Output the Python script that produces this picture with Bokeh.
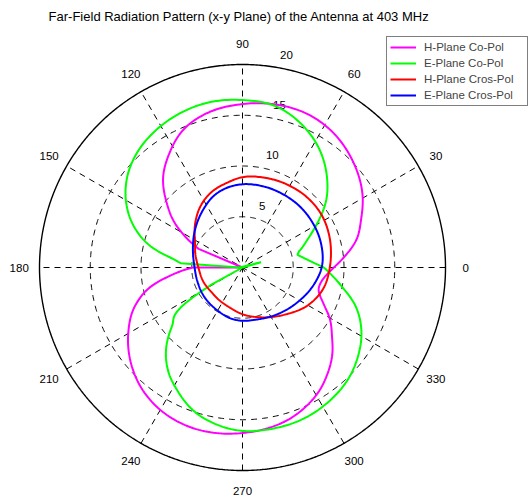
import numpy as np
from bokeh.plotting import figure
from bokeh.models import Label, Legend, LegendItem
from bokeh.core.properties import value
from bokeh.embed import file_html
from bokeh.resources import INLINE

title_text = "Far-Field Radiation Pattern (x-y Plane) of the Antenna at 403 MHz"

# ---- data (angle in degrees, radius) ----
h_co_theta = [0, 5, 14, 22, 31, 44, 56, 66, 78, 90, 103, 113, 123, 132, 140, 147, 152, 157, 160,
              180, 184, 186, 192, 199, 210, 220, 230, 240, 252, 262, 270, 277, 286, 294, 302, 308,
              316, 322, 330, 335, 343, 350, 360]
h_co_r = [9.0, 9.9, 11.6, 12.6, 13.8, 15.1, 16.0, 16.4, 16.4, 16.1, 15.6, 14.8, 13.3, 11.7, 9.7, 7.9,
          6.3, 4.7, 0.0, 4.9, 6.3, 7.0, 9.3, 11.1, 13.0, 14.4, 15.5, 16.2, 16.55, 16.5, 16.3, 16.1,
          15.7, 15.1, 14.3, 13.5, 12.3, 11.2, 9.9, 8.9, 7.85, 7.9, 9.0]

e_co_theta = [0, 3, 13, 16, 25, 32, 38, 47, 57, 67, 78, 90, 102, 112, 122, 132, 143, 151, 159, 167,
              173, 176, 179, 196, 205, 209, 212, 220, 226, 234, 242, 251, 261, 270, 280, 290, 303,
              314, 323, 331, 341, 349, 357, 360]
e_co_r = [8.0, 7.2, 5.55, 5.8, 7.3, 8.9, 10.4, 12.2, 13.9, 15.2, 16.2, 16.5, 16.6, 16.4, 16.0, 15.4,
          14.3, 13.1, 11.5, 9.3, 6.9, 6.1, 0.3, -1.9, 0.0, 3.6, 6.6, 9.1, 10.8, 12.5, 13.7, 14.9,
          15.7, 16.1, 16.15, 16.1, 15.7, 15.1, 14.3, 13.4, 11.8, 10.0, 8.5, 8.0]

h_cross_theta = [0, 8, 20, 33, 46, 60, 77, 90, 100, 113, 124, 136, 152, 165, 174, 180, 200, 219, 235,
                 253, 270, 292, 313, 331, 346, 360]
h_cross_r = [8.6, 8.8, 9.1, 9.35, 9.4, 9.3, 9.1, 8.9, 8.5, 8.0, 7.35, 6.45, 5.3, 4.8, 4.5, 4.35, 4.1,
             3.9, 3.95, 4.15, 4.6, 5.3, 6.3, 7.5, 8.25, 8.6]

e_cross_theta = [0, 18, 33, 47, 61, 76, 90, 101, 112, 124, 141, 160, 178, 196, 218, 240, 257, 270,
                 284, 305, 330, 347, 360]
e_cross_r = [7.8, 8.1, 8.2, 8.25, 8.25, 8.25, 8.2, 8.0, 7.6, 6.9, 6.0, 5.2, 4.75, 4.65, 4.75, 4.9, 5.15,
             5.25, 5.3, 5.7, 6.5, 7.25, 7.8]

# sharp corners visible in the picture (angles), besides nulls
h_co_corners = []
e_co_corners = [13]

series_names = ["H-Plane Co-Pol", "E-Plane Co-Pol", "H-Plane Cros-Pol", "E-Plane Cros-Pol"]
series_colors = ["#FF00FF", "#00FF00", "#FF0000", "#0000FF"]

ring_values = [5, 10, 15]
r_max = 20
spoke_angles = [30, 60, 90, 120, 150, 180]
angle_ticks = [0, 30, 60, 90, 120, 150, 180, 210, 240, 270, 300, 330]
radial_ticks = [5, 10, 15, 20]

# ---- layout ----
W, H = 528, 497
cx, cy = 242.0, 267.0          # centre of polar area in pixels (from top-left)
scale = 203.0 / r_max           # pixels per radial unit

p = figure(width=W, height=H,
           x_range=(-cx / scale, (W - cx) / scale),
           y_range=(-(H - cy) / scale, cy / scale),
           output_backend="svg", toolbar_location=None,
           x_axis_type=None, y_axis_type=None, min_border=0)
p.grid.visible = False
p.outline_line_color = None
p.background_fill_color = "white"
p.border_fill_color = "white"


def pol2xy(theta_deg, r):
    t = np.deg2rad(np.asarray(theta_deg, dtype=float))
    r = np.asarray(r, dtype=float)
    return r * np.cos(t), r * np.sin(t)


def smooth_polar(theta, r, corners=()):
    """Draw the path through the read points: smooth (Hermite in theta-r) between
    ordinary points, straight segments at nulls / corners."""
    th = np.asarray(theta, float)
    rr = np.asarray(r, float)
    n = len(th)
    corner = (rr <= 0.3) | np.isin(th, corners)
    closed = abs(th[-1] - th[0] - 360) < 1e-9 and abs(rr[-1] - rr[0]) < 1e-9

    def nb(i, d):
        j = i + d
        if 0 <= j < n:
            return th[j], rr[j], corner[j]
        if closed:
            if j < 0:
                return th[n - 2] - 360, rr[n - 2], corner[n - 2]
            return th[1] + 360, rr[1], corner[1]
        return None

    m = np.zeros(n)
    for i in range(n):
        L = nb(i, -1)
        R = nb(i, 1)
        dl = None if (L is None or L[2]) else (rr[i] - L[1]) / (th[i] - L[0])
        dr = None if (R is None or R[2]) else (R[1] - rr[i]) / (R[0] - th[i])
        if dl is not None and dr is not None:
            h0 = th[i] - L[0]
            h1 = R[0] - th[i]
            m[i] = (h1 * dl + h0 * dr) / (h0 + h1)
        elif dl is not None:
            m[i] = dl
        elif dr is not None:
            m[i] = dr
    xs, ys = [], []
    for i in range(n - 1):
        if corner[i] or corner[i + 1]:
            tt_ = np.array([th[i], th[i + 1]])
            r_ = np.array([rr[i], rr[i + 1]])
        else:
            h = th[i + 1] - th[i]
            k = max(2, int(np.ceil(h)) + 1)
            s = np.linspace(0, 1, k)
            h00 = 2 * s**3 - 3 * s**2 + 1
            h10 = s**3 - 2 * s**2 + s
            h01 = -2 * s**3 + 3 * s**2
            h11 = s**3 - s**2
            tt_ = th[i] + s * h
            r_ = h00 * rr[i] + h10 * h * m[i] + h01 * rr[i + 1] + h11 * h * m[i + 1]
        x, y = pol2xy(tt_, r_)
        if i > 0:
            x, y = x[1:], y[1:]
        xs.extend(x.tolist())
        ys.extend(y.tolist())
    return xs, ys


# grid rings (dashed) and outer circle (solid)
tt = np.linspace(0, 2 * np.pi, 721)
p.multi_line(xs=[list(rv * np.cos(tt)) for rv in ring_values],
             ys=[list(rv * np.sin(tt)) for rv in ring_values],
             line_color="black", line_width=1, line_dash="6 5")
# spokes
sa = np.deg2rad(spoke_angles)
p.multi_line(xs=[[-r_max * np.cos(a), r_max * np.cos(a)] for a in sa],
             ys=[[-r_max * np.sin(a), r_max * np.sin(a)] for a in sa],
             line_color="black", line_width=1, line_dash="6 5")
p.line(list(r_max * np.cos(tt)), list(r_max * np.sin(tt)), line_color="black", line_width=1.4)

# angle labels
ax_, ay_ = pol2xy(angle_ticks, [1.1 * r_max] * len(angle_ticks))
p.text(x=list(ax_), y=list(ay_), text=[str(a) for a in angle_ticks],
       text_align="center", text_baseline="middle",
       text_font=value("Liberation Sans"), text_font_size=value("11.5px"), text_color="black")

# radial labels at 82 degrees
rx_, ry_ = pol2xy([82] * len(radial_ticks), [v + 0.25 for v in radial_ticks])
p.text(x=list(rx_), y=list(ry_), text=[str(v) for v in radial_ticks],
       text_align="left", text_baseline="bottom", x_offset=9, y_offset=-5,
       text_font=value("Liberation Sans"), text_font_size=value("11.5px"), text_color="black")

# data curves
renderers = []
for (th, rr, cr), col in zip([(h_co_theta, h_co_r, h_co_corners), (e_co_theta, e_co_r, e_co_corners),
                              (h_cross_theta, h_cross_r, []), (e_cross_theta, e_cross_r, [])],
                             series_colors):
    x, y = smooth_polar(th, rr, cr)
    renderers.append(p.line(x, y, line_color=col, line_width=2))

legend = Legend(items=[LegendItem(label=n, renderers=[r]) for n, r in zip(series_names, renderers)],
                location=(386, 391), margin=0, padding=3, spacing=2,
                glyph_width=26, glyph_height=14, label_height=14, label_width=100,
                label_standoff=8,
                label_text_font="Liberation Sans", label_text_font_size="11.5px",
                border_line_color="black", border_line_width=1,
                background_fill_color="white", background_fill_alpha=1.0)
p.add_layout(legend)

p.add_layout(Label(x=238.5, y=H - 15.7, x_units="screen", y_units="screen",
                   text=title_text, text_align="center", text_baseline="middle",
                   text_font="Liberation Sans", text_font_size="13px", text_color="black"))

open("out.html", "w").write(file_html(p, INLINE))
